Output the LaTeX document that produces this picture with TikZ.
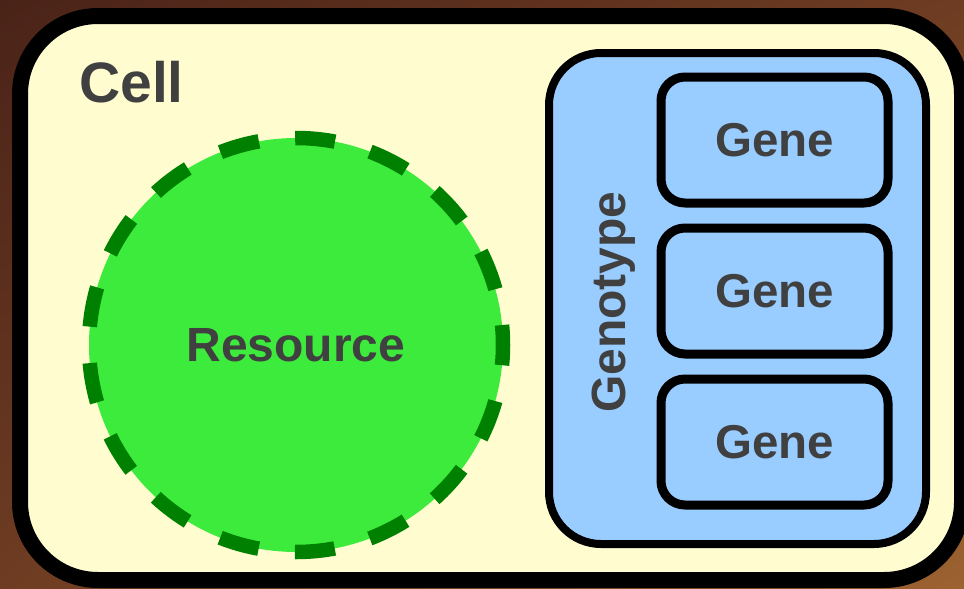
\documentclass[tikz,border=0pt]{standalone}
\usepackage{fontspec}
\setmainfont{Liberation Sans}
\usetikzlibrary{shadings}
\definecolor{bgdark}{HTML}{4A2318}
\definecolor{bgmid}{HTML}{6E3C22}
\definecolor{bglight}{HTML}{9C6230}
\definecolor{cellfill}{HTML}{FFFDD0}
\definecolor{resfill}{HTML}{3DEB3D}
\definecolor{resdash}{HTML}{008000}
\definecolor{genofill}{HTML}{99CCFF}
\definecolor{txt}{HTML}{404040}
\begin{document}
\begin{tikzpicture}[x=1pt,y=-1pt,
  lbl/.style={text=txt,font=\bfseries,inner sep=0pt},
  genebox/.style={draw=black,fill=genofill,line width=9pt,rounded corners=24pt}]
\useasboundingbox (0,0) rectangle (964,589);
\shade[upper left=bgdark,upper right=bgmid,lower left=bgmid,lower right=bglight] (0,0) rectangle (964,589);
% cell
\draw[line width=16pt,fill=cellfill,rounded corners=78pt] (20,16) rectangle (962,580);
\node[lbl,anchor=base west,font=\bfseries\fontsize{57}{60}\selectfont] (cell) at (79,102) {Cell};
% resource
\node[circle,minimum size=414pt,inner sep=0pt,fill=resfill,draw=resdash,line width=14.5pt,
  dash pattern=on 40pt off 36.5pt,dash phase=20pt] (res) at (296,345) {};
\node[lbl,font=\bfseries\fontsize{48}{50}\selectfont] (restxt) at (res.center) {Resource};
% genotype
\draw[line width=8pt,fill=genofill,rounded corners=52pt] (549,53) rectangle (926,544);
\node[lbl,rotate=90,anchor=base,font=\bfseries\fontsize{48}{50}\selectfont] (geno) at (625,302) {Genotype};
% genes
\foreach \i/\y in {1/77,2/228,3/379}{
  \draw[genebox] (661,\y) rectangle (888,\y+126);
  \node[lbl,font=\bfseries\fontsize{47.5}{50}\selectfont] (gene\i) at (774.5,\y+63) {Gene};
}
\end{tikzpicture}
\end{document}
